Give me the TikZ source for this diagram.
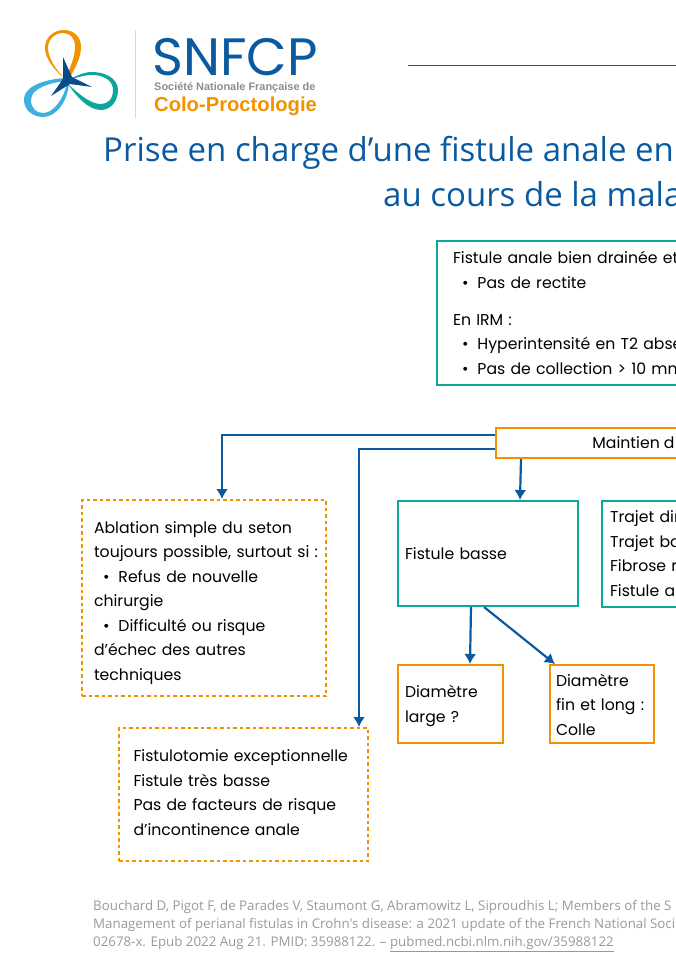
\documentclass[tikz,border=0pt]{standalone}
\usepackage{fontspec}
\usepackage{xcolor}
\usetikzlibrary{arrows.meta,positioning}
\setmainfont{Poppins}
\newfontfamily\titlefont{Open Sans}
\newfontfamily\logofont{Liberation Sans}
\definecolor{snfcpblue}{HTML}{0B5AA0}
\definecolor{snfcpteal}{HTML}{0BA79A}
\definecolor{snfcporange}{HTML}{F39200}
\definecolor{snfcpcyan}{HTML}{3FAEE0}
\newcommand{\puce}[1]{\hspace*{9pt}•\hspace*{9pt}#1}
\newcommand{\topgap}[1]{\noalign{\vskip #1}}

\begin{document}
\begin{tikzpicture}[
			x=1pt,y=-1pt,
			auto,
			>={Latex[length=10pt,width=12pt]},
			font=\fontsize{15.7}{24.5}\selectfont,
			block/.style={
				rectangle,
				line width=2pt,
				inner ysep=0pt,
				align=left,
				fill=white
			},
			tealblock/.style={
				block,
				draw=snfcpteal
			},
			orangeblock/.style={
				block,
				draw=snfcporange
			},
			dashblock/.style={
				block,
				draw=snfcporange,
				dash pattern=on 3.5pt off 3pt
			},
			flow/.style={
				draw=snfcpblue,
				line width=2.2pt
			},
			plain/.style={
				inner sep=0pt,
				anchor=base west
			}
			]
			\path [use as bounding box,clip] (0,0) rectangle (676,961);
			
			% We start with the logo
			\fill [snfcporange,even odd rule] (65,79) .. controls (54,70) and (45,58) .. (45,48) .. controls (45,37) and (54,30) .. (64,30) .. controls (74,30) and (81,37) .. (81,47) .. controls (81,58) and (75,68) .. (70,77) -- cycle
				(65,79) .. controls (56,70) and (48,58) .. (48,48) .. controls (48,39) and (55,33) .. (63,33) .. controls (70,33) and (75,38) .. (75,46) .. controls (75,58) and (70,67) .. (67,76) -- cycle;
			\fill [snfcpcyan,even odd rule] (65,78) .. controls (50,79) and (24,84) .. (24,100) .. controls (24,111) and (34,117) .. (43,117) .. controls (57,117) and (68,100) .. (69,83) -- cycle
				(65,81) .. controls (50,83) and (31,88) .. (31,100) .. controls (31,108) and (36,113) .. (43,113) .. controls (54,113) and (64,98) .. (67,83) -- cycle;
			\fill [snfcpteal,even odd rule] (68,80) .. controls (76,76) and (84,72) .. (92,72) .. controls (106,72) and (118,79) .. (118,90) .. controls (118,102) and (110,110) .. (101,110) .. controls (88,110) and (76,96) .. (68,84) -- cycle
				(68,80) .. controls (76,78) and (84,75) .. (92,75) .. controls (103,75) and (113,80) .. (113,90) .. controls (113,99) and (108,104) .. (101,104) .. controls (90,104) and (79,94) .. (68,84) -- cycle;
			\fill [snfcpblue!85!black] (63,57) -- (72,77) -- (92,87) -- (70,84) -- (51,96) -- (63,79) -- cycle;
			\draw [black!15,line width=1pt] (135,30) -- (135,118);
			
			\node [plain,font=\fontsize{52.6}{52}\selectfont,text=snfcpblue,text depth=0pt] (sigle) at (152,75) {SNFCP};
			\node [plain,font=\logofont\bfseries\fontsize{10.95}{12}\selectfont,text=black!45,text depth=0pt] (societe) at (154,90.5) {Société Nationale Française de};
			\node [plain,font=\logofont\bfseries\fontsize{20.2}{21}\selectfont,text=snfcporange] (colo) at (154,111) {Colo-Proctologie};
			
			% Top rule and title
			\draw [black!70,line width=0.8pt] (408,65) -- (690,65);
			\node [plain,font=\titlefont\fontsize{33}{33}\selectfont,text=snfcpblue] (title1) at (103,161) {Prise en charge d’une fistule anale en};
			\node [plain,font=\titlefont\fontsize{33}{33}\selectfont,text=snfcpblue] (title2) at (383,206) {au cours de la mala};
			
			% Then the blocks
			\node [tealblock, minimum width=253pt, minimum height=144pt, inner xsep=16pt, text width=221pt] (drained) at (563.5,313)
			{%
				\begin{tabular}{@{}l@{}}
				\topgap{2pt}
				Fistule anale bien drainée et\\
				\puce{Pas de rectite}\\[12.5pt]
				En IRM :\\
				\puce{Hyperintensité en T2 abse}\\
				\puce{Pas de collection > 10 mm}
				\end{tabular}
			};
			
			\node [orangeblock, node distance=130pt, below of=drained, xshift=70pt, minimum width=275pt, minimum height=30pt, align=center] (seton)
			{Maintien d};
			
			\node [tealblock, node distance=110.5pt, below of=seton, xshift=-145.5pt, minimum width=180pt, minimum height=105pt, inner xsep=7pt, text width=166pt] (low)
			{Fistule basse};
			
			\node [tealblock, node distance=158pt, right of=low, minimum width=88pt, minimum height=106pt, inner xsep=8pt, text width=72pt] (path)
			{%
				\begin{tabular}{@{}l@{}}
				\topgap{2pt}
				Trajet dir\\
				Trajet ba\\
				Fibrose r\\
				Fistule a
				\end{tabular}
			};
			
			\node [orangeblock, node distance=150.5pt, below of=low, xshift=-37.5pt, minimum width=105pt, minimum height=78pt, inner xsep=7pt, text width=91pt] (large)
			{%
				\begin{tabular}{@{}l@{}}
				\topgap{2pt}
				Diamètre\\
				large ?
				\end{tabular}
			};
			
			\node [orangeblock, node distance=151.5pt, right of=large, minimum width=104pt, minimum height=78pt, inner xsep=6pt, text width=92pt] (thin)
			{%
				\begin{tabular}{@{}l@{}}
				\topgap{4pt}
				Diamètre\\
				fin et long :\\
				Colle
				\end{tabular}
			};
			
			\node [dashblock, node distance=155pt, below of=seton, xshift=-429.5pt, minimum width=244pt, minimum height=196pt, inner xsep=12pt, text width=220pt] (removal)
			{%
				\begin{tabular}{@{}l@{}}
				\topgap{8pt}
				Ablation simple du seton\\
				toujours possible, surtout si :\\
				\puce{Refus de nouvelle}\\
				chirurgie\\
				\puce{Difficulté ou risque}\\
				d’échec des autres\\
				techniques
				\end{tabular}
			};
			
			\node [dashblock, node distance=196.5pt, below of=removal, xshift=39.5pt, minimum width=249pt, minimum height=133pt, inner xsep=14.5pt, text width=220pt] (fistulotomy)
			{%
				\begin{tabular}{@{}l@{}}
				Fistulotomie exceptionnelle\\
				Fistule très basse\\
				Pas de facteurs de risque\\
				d’incontinence anale\\[2pt]
				\end{tabular}
			};
			
			\draw [flow,->] ([yshift=8pt]seton.west) -| ([xshift=18pt]removal.north);
			\draw [flow,->] ([yshift=-6pt]seton.west) -| ([xshift=115.5pt]fistulotomy.north);
			\draw [flow,->] ([xshift=-112.5pt]seton.south) -- ([xshift=32pt]low.north);
			\draw [flow,->] ([xshift=-17pt]low.south) -- ([xshift=19.5pt]large.north);
			\draw [flow,->] ([xshift=-4pt]low.south) -- ([xshift=-47pt]thin.north);
			
			% Reference at the bottom
			\node [plain,anchor=north west,align=left,font=\titlefont\fontsize{13.3}{18}\selectfont,text=black!40] (source) at (93,900.5)
			{%
				Bouchard D, Pigot F, de Parades V, Staumont G, Abramowitz L, Siproudhis L; Members of the S\\
				Management of perianal fistulas in Crohn's disease: a 2021 update of the French National Soci\\
				02678-x. Epub 2022 Aug 21. PMID: 35988122. – \underline{pubmed.ncbi.nlm.nih.gov/35988122}
			};
			\end{tikzpicture}
\end{document}
